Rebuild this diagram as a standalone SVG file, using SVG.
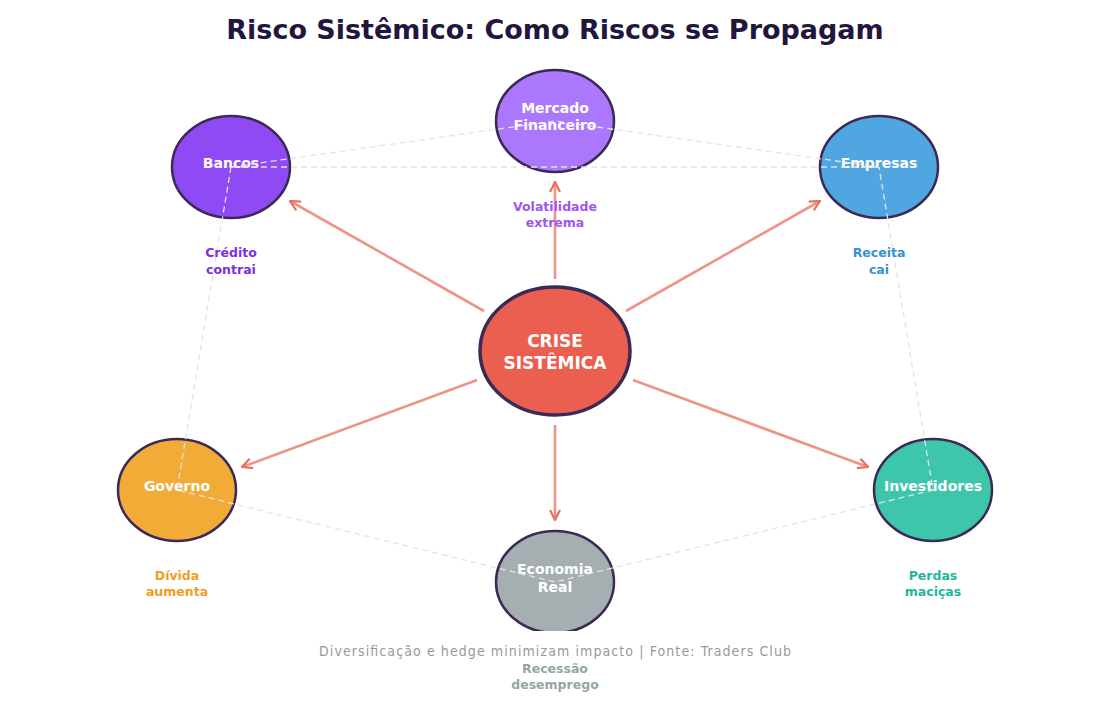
<svg xmlns="http://www.w3.org/2000/svg" width="1110" height="706" viewBox="0 0 1110 706">
<style>
.n{stroke:#3a2a55;stroke-width:2.5}
.t{font-family:"DejaVu Sans",sans-serif;font-weight:bold;font-size:14px;fill:#fff;text-anchor:middle}
.l{font-family:"DejaVu Sans",sans-serif;font-weight:bold;font-size:12.5px;text-anchor:middle}
.d{stroke:#e4e4e8;stroke-width:1.3;stroke-dasharray:6 4;fill:none}
.a{stroke:#e8705f;stroke-opacity:.75;stroke-width:2.6;fill:none;marker-end:url(#ah)}
</style>
<defs>
<marker id="ah" viewBox="0 0 12 12" refX="11" refY="6" markerWidth="12" markerHeight="12" markerUnits="userSpaceOnUse" orient="auto">
<path d="M1 1L11 6L1 11" fill="none" stroke="#e8705f" stroke-width="2.2"/>
</marker>
<clipPath id="c"><rect x="0" y="0" width="1110" height="631"/></clipPath>
</defs>
<rect width="1110" height="706" fill="#fff"/>
<text x="555" y="39" font-family="DejaVu Sans,sans-serif" font-weight="bold" font-size="27" fill="#22163e" text-anchor="middle">Risco Sistêmico: Como Riscos se Propagam</text>
<g clip-path="url(#c)">
<g id="n-bancos"><ellipse class="n" cx="231" cy="167" rx="59" ry="51" fill="#8f4af4"/><text class="t" x="231" y="168">Bancos</text></g>
<g id="n-mercado"><ellipse class="n" cx="555" cy="121" rx="59" ry="51" fill="#ab77fd"/><text class="t" x="555" y="113">Mercado</text><text class="t" x="555" y="130">Financeiro</text></g>
<g id="n-empresas"><ellipse class="n" cx="879" cy="167" rx="59" ry="51" fill="#50a6e0"/><text class="t" x="879" y="168">Empresas</text></g>
<g id="n-governo"><ellipse class="n" cx="177" cy="490" rx="59" ry="51" fill="#f2ab37"/><text class="t" x="177" y="491">Governo</text></g>
<g id="n-investidores"><ellipse class="n" cx="933" cy="490" rx="59" ry="51" fill="#3dc6aa"/><text class="t" x="933" y="491">Investidores</text></g>
<g id="n-economia"><ellipse class="n" cx="555" cy="582" rx="59" ry="51" fill="#a5afb1"/><text class="t" x="555" y="574">Economia</text><text class="t" x="555" y="592">Real</text></g>
<g id="connectors">
<path class="d" d="M231 167L555 121L879 167M231 167L879 167M231 167L177 490L555 582L933 490L879 167"/>
<path class="a" d="M555 279V182"/>
<path class="a" d="M484 311L290 201"/>
<path class="a" d="M626 311L820 201"/>
<path class="a" d="M477 380L242 467"/>
<path class="a" d="M633 380L868 467"/>
<path class="a" d="M555 425V520"/>
</g>
</g>
<g id="n-crise"><ellipse cx="555" cy="351" rx="75" ry="64" fill="#ea5f4f" stroke="#3a2a55" stroke-width="3.5"/><text class="t" font-size="17" x="555" y="347" style="font-size:17px">CRISE</text><text class="t" x="555" y="369" style="font-size:17px">SISTÊMICA</text></g>
<text class="l" x="231" y="257" fill="#7a30e0">Crédito</text><text class="l" x="231" y="274" fill="#7a30e0">contrai</text>
<text class="l" x="555" y="211" fill="#9d56f0">Volatilidade</text><text class="l" x="555" y="227" fill="#9d56f0">extrema</text>
<text class="l" x="879" y="257" fill="#3592d0">Receita</text><text class="l" x="879" y="274" fill="#3592d0">cai</text>
<text class="l" x="177" y="580" fill="#ef9e1e">Dívida</text><text class="l" x="177" y="596" fill="#ef9e1e">aumenta</text>
<text class="l" x="933" y="580" fill="#1eb897">Perdas</text><text class="l" x="933" y="596" fill="#1eb897">maciças</text>
<text class="l" x="555" y="673" fill="#95a5a6">Recessão</text><text class="l" x="555" y="689" fill="#95a5a6">desemprego</text>
<text x="555" y="656" font-family="DejaVu Sans Condensed,DejaVu Sans,sans-serif" font-stretch="condensed" font-size="14" fill="#999" text-anchor="middle" textLength="472">Diversificação e hedge minimizam impacto | Fonte: Traders Club</text>
</svg>
